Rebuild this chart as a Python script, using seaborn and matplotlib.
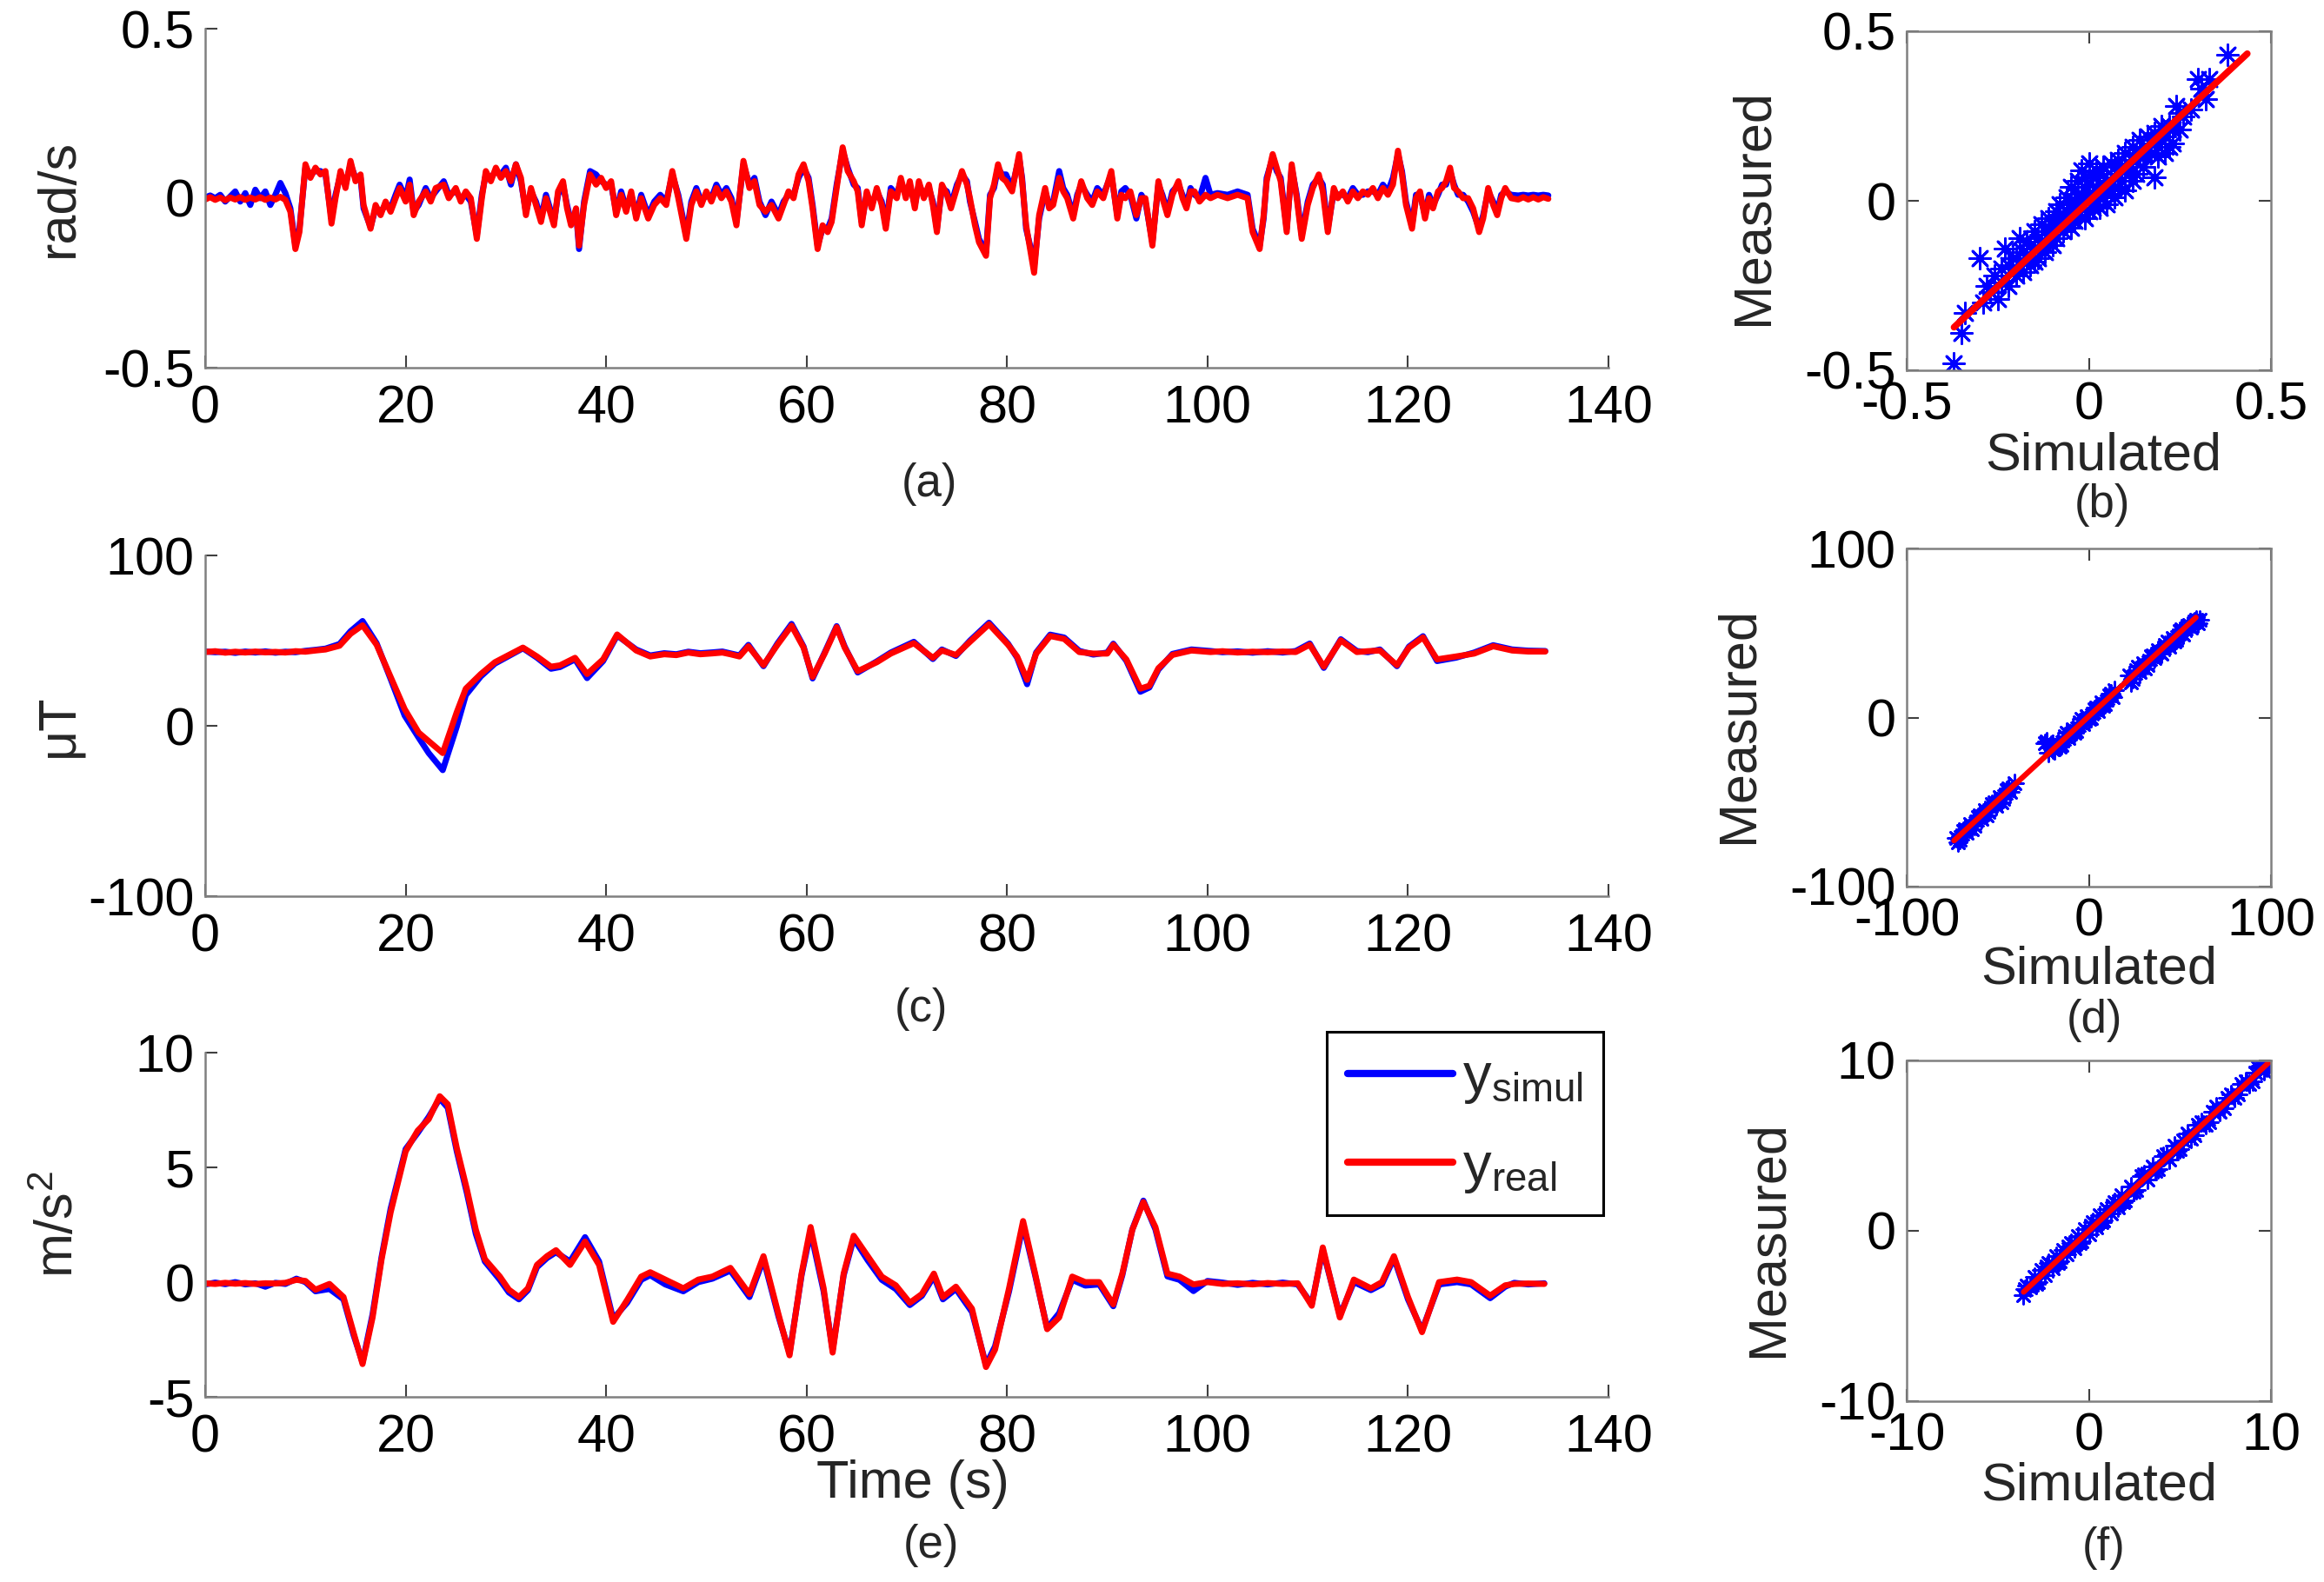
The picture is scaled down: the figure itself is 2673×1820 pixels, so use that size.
import numpy as np
import pandas as pd
import matplotlib
matplotlib.use("Agg")
import matplotlib.pyplot as plt
import seaborn as sns
from matplotlib.lines import Line2D

# ---------------------------------------------------------------- data
time_ticks = [0, 20, 40, 60, 80, 100, 120, 140]

# (a) angular rate, rad/s
t_rate = [0, 0.5, 1, 1.5, 2, 2.5, 3, 3.5, 4, 4.5,
          5, 5.5, 6, 6.5, 7, 7.5, 8, 8.5, 9.0, 9.4,
          10, 10.5, 11, 11.5, 12, 12.6, 13, 13.5, 14, 14.5,
          15, 15.5, 15.8, 16.5, 17, 17.5, 18, 18.5, 19, 19.4,
          20, 20.4, 20.8, 21.3, 22, 22.5, 23, 23.8, 24.3, 25,
          25.5, 26, 26.5, 27.1, 27.6, 28, 28.5, 29, 29.5, 30,
          30.5, 31, 31.5, 32, 32.5, 33, 33.5, 34, 34.8, 35.2,
          35.7, 36.1, 36.5, 37, 37.3, 37.8, 38.4, 39, 39.5, 40,
          40.5, 41, 41.5, 42, 42.5, 43, 43.5, 44.2, 44.8, 45.4,
          46, 46.6, 47.2, 48, 48.5, 49, 49.5, 50, 50.5, 51,
          51.5, 52, 52.5, 53, 53.7, 54.3, 54.8, 55.3, 55.9, 56.5,
          57.2, 57.7, 58.2, 58.7, 59.2, 59.7, 60.2, 60.6, 61.1, 61.6,
          62.1, 62.5, 63, 63.6, 64.1, 64.7, 65.1, 65.5, 66, 66.5,
          67, 67.5, 67.9, 68.4, 69, 69.4, 69.9, 70.3, 70.8, 71.2,
          71.7, 72.2, 72.6, 73, 73.5, 74, 74.4, 75, 75.5, 76,
          76.3, 76.8, 77.2, 77.9, 78.3, 78.7, 79.1, 79.5, 79.9, 80.5,
          81.2, 81.5, 81.9, 82.3, 82.7, 83.2, 83.8, 84.2, 84.6, 85.2,
          85.6, 86, 86.6, 87, 87.4, 88, 88.5, 89, 89.6, 90.4,
          91, 91.4, 91.8, 92.3, 92.9, 93.4, 93.8, 94.5, 95.1, 95.5,
          96, 96.5, 97.1, 97.5, 97.9, 98.3, 98.7, 99.2, 99.8, 100.3,
          101, 102, 103, 104, 104.5, 105.2, 105.6, 105.9, 106.5, 106.9,
          107.3, 107.9, 108.4, 108.9, 109.4, 110, 110.5, 111.1, 111.5, 112,
          112.6, 113, 113.5, 114, 114.5, 115, 115.5, 116, 116.5, 117,
          117.5, 118, 118.5, 119, 119.4, 119.8, 120.4, 120.8, 121.2, 121.7,
          122.1, 122.5, 123, 123.4, 123.8, 124.2, 124.6, 125, 125.5, 126,
          126.5, 127.1, 127.5, 128, 128.5, 128.9, 129.3, 129.7, 130.3, 131,
          131.5, 132, 132.5, 133, 133.5, 134]
real_rate = [-0.004, 0.003, -0.005, 0.002, -0.006, 0.002, -0.004, 0.003, -0.005, 0.002,
             -0.004, 0.003, -0.005, 0.002, -0.004, 0.004, -0.005, -0.04, -0.15, -0.1,
             0.1, 0.06, 0.09, 0.07, 0.08, -0.075, 0.0, 0.08, 0.03, 0.11,
             0.05, 0.07, -0.02, -0.09, -0.02, -0.05, -0.01, -0.04, 0.0, 0.03,
             -0.01, 0.04, -0.05, -0.01, 0.02, -0.01, 0.03, 0.04, 0.0, 0.03,
             -0.01, 0.02, 0.0, -0.12, 0.0, 0.08, 0.05, 0.09, 0.06, 0.08,
             0.05, 0.1, 0.06, -0.05, 0.03, -0.02, -0.07, 0.0, -0.08, 0.02,
             0.05, -0.03, -0.08, -0.03, -0.14, -0.02, 0.07, 0.04, 0.06, 0.03,
             0.05, -0.05, 0.01, -0.04, 0.02, -0.06, 0.0, -0.06, -0.02, 0.0,
             -0.02, 0.08, 0.0, -0.12, -0.02, 0.02, -0.02, 0.02, -0.01, 0.03,
             0.0, 0.02, -0.01, -0.08, 0.11, 0.03, 0.05, -0.02, -0.04, -0.02,
             -0.06, -0.02, 0.02, 0.0, 0.07, 0.1, 0.05, -0.03, -0.15, -0.08,
             -0.1, -0.07, 0.03, 0.15, 0.08, 0.05, 0.02, -0.08, 0.02, -0.03,
             0.03, -0.02, -0.09, 0.02, 0.0, 0.06, 0.0, 0.05, -0.03, 0.05,
             0.0, 0.04, -0.02, -0.1, 0.04, 0.01, -0.03, 0.03, 0.08, 0.04,
             0.0, -0.08, -0.13, -0.17, 0.0, 0.04, 0.1, 0.06, 0.05, 0.02,
             0.13, 0.05, -0.08, -0.15, -0.22, -0.05, 0.03, -0.03, -0.02, 0.06,
             0.02, 0.0, -0.06, 0.0, 0.05, 0.0, -0.02, 0.02, 0.0, 0.08,
             -0.06, 0.01, 0.0, 0.02, -0.05, 0.0, 0.0, -0.14, 0.05, 0.0,
             -0.05, 0.01, 0.05, 0.0, -0.03, 0.02, 0.02, -0.01, 0.01, 0.0,
             0.01, 0.0, 0.01, 0.0, -0.1, -0.15, -0.05, 0.05, 0.13, 0.09,
             0.05, -0.1, 0.1, 0.0, -0.12, -0.02, 0.03, 0.07, 0.02, -0.1,
             0.03, 0.0, 0.02, -0.01, 0.02, 0.0, 0.02, 0.01, 0.03, 0.0,
             0.03, 0.01, 0.04, 0.14, 0.07, -0.02, -0.09, 0.0, 0.02, -0.06,
             0.0, -0.03, 0.02, 0.03, 0.05, 0.09, 0.03, 0.02, 0.0, 0.0,
             -0.03, -0.1, -0.06, 0.03, -0.02, -0.05, 0.0, 0.03, 0.0, -0.004,
             0.003, -0.004, 0.003, -0.004, 0.003, -0.002]
simul_rate = [0.002, 0.008, 0.0, 0.01, -0.01, 0.005, 0.02, -0.01, 0.015, -0.02,
              0.025, 0.0, 0.02, -0.02, 0.01, 0.045, 0.015, -0.03, -0.14, -0.09,
              0.09, 0.07, 0.08, 0.08, 0.07, -0.06, 0.01, 0.07, 0.04, 0.1,
              0.06, 0.06, -0.03, -0.085, -0.03, -0.04, -0.02, -0.03, 0.01, 0.04,
              0.0, 0.055, -0.04, -0.02, 0.03, 0.0, 0.02, 0.05, 0.01, 0.02,
              0.0, 0.01, -0.01, -0.11, 0.01, 0.07, 0.06, 0.08, 0.07, 0.09,
              0.04, 0.1, 0.05, -0.04, 0.02, -0.01, -0.06, 0.01, -0.07, 0.01,
              0.04, -0.02, -0.07, -0.04, -0.15, -0.01, 0.08, 0.07, 0.05, 0.04,
              0.04, -0.04, 0.02, -0.03, 0.01, -0.05, 0.01, -0.05, -0.01, 0.01,
              -0.01, 0.07, 0.01, -0.11, -0.01, 0.03, -0.01, 0.01, 0.0, 0.04,
              0.01, 0.03, 0.0, -0.07, 0.1, 0.04, 0.06, -0.01, -0.05, -0.01,
              -0.05, -0.01, 0.01, 0.01, 0.06, 0.09, 0.06, -0.02, -0.14, -0.09,
              -0.09, -0.06, 0.04, 0.14, 0.09, 0.04, 0.03, -0.07, 0.01, -0.02,
              0.02, -0.01, -0.08, 0.03, 0.01, 0.05, 0.01, 0.04, -0.02, 0.04,
              0.01, 0.03, -0.01, -0.09, 0.03, 0.02, -0.02, 0.04, 0.07, 0.05,
              -0.01, -0.07, -0.12, -0.16, 0.01, 0.03, 0.09, 0.07, 0.07, 0.03,
              0.12, 0.06, -0.09, -0.14, -0.2, -0.06, 0.02, -0.02, -0.01, 0.08,
              0.03, 0.01, -0.05, 0.01, 0.04, 0.01, -0.01, 0.03, 0.01, 0.07,
              -0.05, 0.02, 0.03, 0.01, -0.06, 0.01, -0.01, -0.13, 0.04, 0.01,
              -0.04, 0.02, 0.04, 0.01, -0.02, 0.03, 0.01, 0.0, 0.06, 0.01,
              0.015, 0.01, 0.02, 0.01, -0.09, -0.14, -0.06, 0.06, 0.12, 0.08,
              0.06, -0.09, 0.09, 0.01, -0.11, -0.01, 0.04, 0.06, 0.04, -0.09,
              0.02, 0.01, 0.01, 0.0, 0.03, 0.01, 0.01, 0.02, 0.02, 0.01,
              0.04, 0.02, 0.06, 0.13, 0.08, -0.01, -0.08, 0.01, 0.01, -0.05,
              0.01, -0.02, 0.01, 0.04, 0.04, 0.08, 0.04, 0.01, 0.01, -0.01,
              -0.04, -0.09, -0.05, 0.02, -0.01, -0.04, 0.01, 0.02, 0.01, 0.008,
              0.01, 0.008, 0.01, 0.008, 0.01, 0.008]

# (c) magnetic field, uT
t_mag = [0, 1, 2, 3, 4, 5, 6, 7, 8, 9,
         10, 11, 12, 13.4, 14.5, 15.7, 17.1, 18.5, 19.9, 21.3,
         22.3, 23.7, 25.1, 26, 27.5, 28.9, 30.3, 31.7, 33.1, 34.5,
         35.4, 36.9, 38.1, 39.7, 41.1, 43, 44.4, 45.8, 47, 48.2,
         49.4, 50.6, 51.6, 52.4, 53.3, 54.2, 55.7, 57.1, 58.5, 59.7,
         60.6, 61.8, 63, 63.8, 65.1, 67, 68.4, 70.7, 72.6, 73.5,
         74.9, 76.3, 78.2, 80.1, 81, 82, 82.9, 84.3, 85.7, 87.2,
         88.6, 90, 90.6, 91.9, 93.3, 94.2, 95.1, 96.5, 98.4, 100.3,
         101.5, 103, 104.5, 106, 107.5, 108.8, 110.2, 111.6, 113.3, 114.9,
         116, 117.2, 118.9, 120.1, 121.5, 122.9, 124.8, 126.6, 128.5, 130.4,
         132, 133.7]
real_mag = [43.3, 43.8, 42.9, 43.5, 43.0, 43.6, 43.1, 43.4, 43.0, 43.8,
            43.5, 44.2, 44.8, 47, 54, 59, 47.6, 28.7, 9.8, -4,
            -9, -16, 8, 21.8, 30.4, 37.3, 41.6, 45.9, 40.7, 34.7,
            35.5, 39.9, 30.4, 39, 53.6, 44.2, 40.7, 42, 41.5, 43,
            42, 42.5, 43, 42, 40.7, 46.7, 35.6, 47.6, 58.8, 45.9,
            28.7, 42.4, 57.9, 45.9, 32.1, 37.3, 42.4, 48.5, 39.9, 44.2,
            41.6, 49.3, 59.6, 47.6, 40.7, 27, 42.4, 52.7, 51, 43.3,
            42.4, 42.4, 47.6, 39, 21.8, 23.5, 33.8, 41.6, 44.2, 43.3,
            43.8, 43, 43.5, 43.2, 43.6, 43.3, 47.6, 34.7, 50.2, 43.3,
            43.8, 44.2, 35.6, 45.9, 51.9, 39, 40.7, 42.4, 46.7, 44.2,
            43.6, 43.6]
simul_mag = [43.6, 43.2, 43.5, 42.8, 43.6, 43.0, 43.7, 42.9, 43.5, 43.2,
             44.0, 44.6, 45.3, 48, 55.5, 61.5, 48.5, 27.5, 6, -7,
             -16, -26, -0.5, 18, 29, 36.5, 41, 45.5, 40, 33.5,
             34.5, 39, 28, 38, 53, 44.8, 41.3, 42.6, 42, 43.5,
             42.6, 43.1, 43.6, 42.5, 41.3, 47.5, 35, 48.4, 59.8, 46.5,
             27.8, 43, 58.5, 46.5, 31.3, 37.8, 43, 49.3, 39.2, 44.8,
             41, 50, 60.5, 48.2, 40, 24.4, 43, 53.5, 51.8, 44,
             41.8, 43, 48.2, 38.2, 20, 22.5, 33, 42.2, 44.8, 43.9,
             43.2, 43.7, 42.9, 43.8, 43.0, 43.9, 48.3, 34, 50.8, 43.9,
             43.2, 44.8, 35, 46.5, 52.6, 38, 40, 43, 47.3, 44.8,
             44.1, 43.9]

# (e) acceleration, m/s^2
t_acc = [0, 1, 2, 3, 4, 5, 6, 7, 8, 9.1,
         10, 11, 12.4, 13.8, 14.8, 15.7, 16.7, 17.6, 18.5, 20,
         21.2, 22.3, 23.4, 24.2, 25.1, 26.1, 27, 27.9, 29.4, 30.3,
         31.3, 32.2, 33.1, 34.1, 35, 36.4, 37.9, 39.3, 40.7, 42.1,
         43.5, 44.4, 45.9, 47.7, 49.2, 50.6, 52.4, 54.3, 55.7, 57.2,
         58.3, 59.5, 60.4, 61.7, 62.6, 63.7, 64.7, 66.1, 67.5, 68.9,
         70.3, 71.5, 72.7, 73.6, 74.9, 76.5, 77.9, 78.8, 80.2, 81.6,
         82.8, 84, 85.2, 86.5, 87.8, 89.2, 90.6, 91.5, 92.5, 93.6,
         94.8, 96, 97.2, 98.6, 100, 101.5, 103, 104.5, 106, 107.5,
         109, 110.4, 111.5, 113.2, 114.6, 116.3, 117.4, 118.6, 120, 121.4,
         123.1, 124.9, 126.3, 128.2, 129.7, 130.6, 132, 133.6]
real_acc = [-0.05, -0.08, -0.03, -0.07, -0.04, -0.08, -0.05, -0.06, -0.03, 0.1,
            0.05, -0.33, -0.08, -0.65, -2.2, -3.57, -1.54, 1.0, 3.04, 5.7,
            6.6, 7.1, 8.1, 7.75, 5.84, 4.06, 2.28, 1.0, 0.24, -0.33,
            -0.65, -0.27, 0.75, 1.13, 1.39, 0.75, 1.77, 0.75, -1.73, -0.78,
            0.24, 0.43, 0.11, -0.27, 0.11, 0.24, 0.62, -0.52, 1.13, -1.41,
            -3.19, 0.37, 2.4, -0.27, -3.07, 0.37, 2.02, 1.13, 0.24, -0.14,
            -0.9, -0.52, 0.37, -0.65, -0.2, -1.16, -3.7, -2.94, -0.27, 2.66,
            0.37, -2.05, -1.54, 0.24, 0.0, 0.0, -0.97, 0.37, 2.28, 3.49,
            2.4, 0.37, 0.24, -0.1, 0.0, -0.08, -0.05, -0.1, -0.04, -0.08,
            -0.05, -1.03, 1.51, -1.54, 0.11, -0.27, 0.0, 1.13, -0.65, -2.18,
            0.0, 0.11, 0.0, -0.59, -0.14, -0.08, -0.06, -0.08]
simul_acc = [-0.1, -0.02, -0.09, 0.0, -0.1, -0.05, -0.2, -0.03, -0.08, 0.15,
             0.0, -0.4, -0.3, -0.75, -2.3, -3.5, -1.4, 1.1, 3.2, 5.8,
             6.5, 7.2, 8.0, 7.6, 5.7, 3.9, 2.1, 0.9, 0.1, -0.45,
             -0.75, -0.35, 0.65, 1.05, 1.3, 0.9, 1.96, 0.9, -1.6, -0.9,
             0.1, 0.3, -0.1, -0.4, 0.0, 0.15, 0.5, -0.65, 1.0, -1.5,
             -3.1, 0.3, 2.2, -0.4, -2.95, 0.3, 1.9, 0.95, 0.1, -0.3,
             -1.0, -0.6, 0.25, -0.75, -0.3, -1.3, -3.6, -2.8, -0.4, 2.5,
             0.3, -2.0, -1.35, 0.1, -0.15, -0.1, -1.05, 0.3, 2.3, 3.55,
             2.3, 0.25, 0.1, -0.39, 0.05, -0.02, -0.12, -0.03, -0.1, -0.02,
             -0.1, -0.95, 1.4, -1.45, 0.0, -0.35, -0.1, 1.05, -0.75, -2.1,
             -0.1, 0.0, -0.1, -0.7, -0.2, -0.03, -0.1, -0.05]

# (b) measured vs simulated, rad/s
sim_b = [-0.37, -0.35, -0.34, -0.30, -0.29, -0.28, -0.27, -0.26, -0.25, -0.24,
         -0.23, -0.22, -0.21, -0.20, -0.19, -0.19, -0.18, -0.17, -0.17, -0.16,
         -0.15, -0.15, -0.14, -0.13, -0.13, -0.12, -0.11, -0.11, -0.10, -0.10,
         -0.09, -0.09, -0.08, -0.08, -0.07, -0.07, -0.06, -0.06, -0.05, -0.05,
         -0.04, -0.04, -0.03, -0.03, -0.02, -0.02, -0.01, -0.01, 0.00, 0.00,
         0.00, 0.01, 0.01, 0.02, 0.02, 0.03, 0.03, 0.04, 0.04, 0.05,
         0.05, 0.06, 0.06, 0.07, 0.07, 0.08, 0.08, 0.09, 0.10, 0.10,
         0.11, 0.12, 0.12, 0.13, 0.14, 0.15, 0.16, 0.17, 0.18, 0.18,
         0.19, 0.20, 0.21, 0.22, 0.23, 0.24, 0.25, 0.26, 0.30, 0.31,
         0.32, 0.33, 0.38,
         -0.20, -0.18, -0.16, -0.14, -0.12, -0.10, -0.08, -0.06, -0.04, -0.02,
         0.00, 0.02, 0.04, 0.06, 0.08, 0.10, 0.12, 0.14, 0.16, 0.18,
         0.20, -0.15, -0.12, -0.09, -0.05, -0.03, -0.01, 0.01, 0.03, 0.05,
         0.07, 0.09, 0.11, 0.13, 0.15, 0.17, 0.19, 0.21, -0.22, -0.24,
         0.22, 0.25, 0.28, 0.23]
meas_b = [-0.48, -0.39, -0.33, -0.17, -0.30, -0.25, -0.27, -0.22, -0.29, -0.20,
          -0.14, -0.25, -0.17, -0.22, -0.11, -0.19, -0.21, -0.12, -0.17, -0.19,
          -0.09, -0.14, -0.17, -0.07, -0.12, -0.15, -0.05, -0.10, -0.13, -0.07,
          -0.03, -0.11, -0.06, -0.01, -0.09, -0.04, 0.01, -0.07, -0.02, 0.04,
          -0.06, 0.00, 0.06, -0.04, 0.02, 0.09, -0.05, 0.04, 0.11, -0.03,
          0.02, 0.07, -0.02, 0.03, 0.09, -0.02, 0.05, 0.10, 0.01, 0.06,
          -0.01, 0.03, 0.11, 0.07, 0.01, 0.12, 0.04, 0.09, 0.03, 0.14,
          0.08, 0.16, 0.06, 0.12, 0.18, 0.10, 0.19, 0.14, 0.07, 0.20,
          0.16, 0.22, 0.14, 0.16, 0.21, 0.28, 0.21, 0.25, 0.36, 0.33,
          0.30, 0.36, 0.43,
          -0.17, -0.15, -0.13, -0.11, -0.09, -0.09, -0.04, -0.03, -0.02, -0.01,
          0.00, 0.00, 0.05, 0.06, 0.08, 0.09, 0.12, 0.13, 0.15, 0.17,
          0.18, -0.18, -0.13, -0.08, -0.08, 0.01, 0.07, 0.01, 0.08, 0.02,
          0.10, 0.06, 0.11, 0.08, 0.14, 0.18, 0.13, 0.19, -0.19, -0.24,
          0.22, 0.26, 0.27, 0.17]
fit_b_x = [-0.37, 0.435]
fit_b_y = [-0.373, 0.434]

# (d) measured vs simulated, uT
sim_d = [-73, -71, -69, -67, -65, -63, -61, -59, -57, -55, -53, -51, -49, -47, -45, -43, -41,
         -72, -68, -64, -60, -56, -52, -48, -44,
         -23, -22, -21, -19, -17, -15, -13, -11, -9, -7, -5, -3, -1, 1, 3, 5, 7, 9, 11, 13, 14,
         -24, -20, -16, -12, -8, -4, 0, 4, 8, 12,
         22, 24, 26, 28, 30, 32, 34, 36, 38, 40, 42, 44, 46, 48, 50, 52, 54, 56, 58, 60, 61,
         23, 27, 31, 35, 39, 43, 47, 51, 55, 59]
meas_d = [-71, -72, -67, -68, -63, -64, -59, -60, -55, -56, -51, -52, -47, -48, -43, -44, -39,
          -74, -66, -66, -58, -58, -50, -50, -42,
          -14, -21, -16, -18, -15, -16, -11, -12, -7, -8, -3, -4, 1, 0, 5, 4, 9, 8, 13, 12, 16,
          -15, -19, -17, -9, -9, -1, -1, 6, 7, 14,
          25, 23, 28, 27, 32, 31, 36, 35, 40, 38, 43, 42, 47, 46, 51, 49, 54, 53, 57, 56, 58,
          21, 30, 29, 37, 39, 45, 45, 52, 55, 58]
fit_d_x = [-74, 58.8]
fit_d_y = [-72.8, 59.2]

# (f) measured vs simulated, m/s^2
sim_f = [-3.6, -3.4, -3.2, -3.0, -2.8, -2.6, -2.4, -2.2, -2.0, -1.8, -1.6, -1.4, -1.2, -1.0,
         -0.8, -0.6, -0.4, -0.2, 0.0, 0.2, 0.4, 0.6, 0.8, 1.0, 1.2, 1.4, 1.6, 1.8, 2.0,
         2.3, 2.6, 2.9, 3.2, 3.5, 3.8, 4.1, 4.4, 4.7, 5.0,
         5.4, 5.8, 6.2, 6.6, 7.0, 7.4, 7.8, 8.2, 8.6, 9.0, 9.3, 9.6, 9.9,
         -3.5, -2.9, -2.3, -1.7, -1.1, -0.5, 0.1, 0.7, 1.3, 1.9,
         2.45, 3.05, 3.65, 4.25, 4.85, 5.2, 5.6, 6.0, 6.4, 6.8,
         7.2, 7.6, 8.0, 8.4, 8.8, 9.15, 9.45, 9.75]
meas_f = [-3.8, -3.2, -3.3, -2.7, -3.0, -2.3, -2.6, -1.9, -2.2, -1.5, -1.8, -1.1, -1.4, -0.7,
          -1.0, -0.3, -0.6, 0.1, -0.2, 0.5, 0.2, 0.9, 0.6, 1.3, 1.0, 1.7, 1.4, 2.1, 1.8,
          2.6, 2.4, 3.2, 3.0, 3.8, 3.6, 4.4, 4.2, 5.0, 4.8,
          5.7, 5.6, 6.4, 6.4, 7.3, 7.2, 8.0, 8.0, 8.8, 8.8, 9.6, 9.4, 9.8,
          -3.4, -3.1, -2.1, -1.9, -0.9, -0.7, 0.3, 0.5, 1.5, 1.7,
          2.3, 3.3, 3.5, 4.5, 4.7, 5.3, 5.4, 6.2, 6.2, 7.0,
          7.0, 7.8, 7.8, 8.6, 8.6, 9.3, 9.7, 9.6]
fit_f_x = [-3.58, 9.88]
fit_f_y = [-3.59, 9.88]

# ---------------------------------------------------------------- style
sns.set_theme(style="white")
plt.rcParams["font.family"] = ["Liberation Sans", "DejaVu Sans"]
plt.rcParams["axes.unicode_minus"] = False
plt.rcParams["mathtext.fontset"] = "custom"
plt.rcParams["mathtext.rm"] = "Liberation Sans"
plt.rcParams["mathtext.it"] = "Liberation Sans:italic"
plt.rcParams["mathtext.bf"] = "Liberation Sans:bold"

W, H = 2673, 1820
fig = plt.figure(figsize=(W / 100, H / 100), dpi=100)
fig.patch.set_facecolor("white")

BLUE = "#0000FF"
RED = "#FF0000"
SPINE = "#808080"
FS = 44
FS_TAG = 38


def rect(L, T, R, B):
    return [L / W, 1 - B / H, (R - L) / W, (B - T) / H]


def style(ax, boxed, xpad):
    ax.spines["top"].set_visible(boxed)
    ax.spines["right"].set_visible(boxed)
    for sp in ax.spines.values():
        sp.set_color(SPINE)
        sp.set_linewidth(1.8)
    ax.tick_params(direction="in", length=10, width=1.5, color="#404040",
                   labelsize=FS, labelcolor="black", pad=9,
                   top=boxed, right=boxed, bottom=True, left=True,
                   labeltop=False, labelright=False)
    ax.tick_params(axis="x", pad=xpad)
    ax.grid(False)
    ax.set_facecolor("white")


def series_panel(box, t, sim, real, ylim, yticks, ylabels, ylabel, tag, tag_xy):
    ax = fig.add_axes(rect(*box))
    df = pd.DataFrame({"t": t, "sim": sim, "real": real})
    sns.lineplot(data=df, x="t", y="sim", ax=ax, color=BLUE, linewidth=5,
                 sort=False, estimator=None)
    sns.lineplot(data=df, x="t", y="real", ax=ax, color=RED, linewidth=5,
                 sort=False, estimator=None)
    ax.set_xlim(0, 140)
    ax.set_ylim(*ylim)
    ax.set_xticks(time_ticks)
    ax.set_xticklabels([str(v) for v in time_ticks])
    ax.set_yticks(yticks)
    ax.set_yticklabels(ylabels)
    style(ax, False, 14)
    ax.set_xlabel("")
    ax.set_ylabel(ylabel, fontsize=FS)
    ax.yaxis.label.set_va("center")
    ax.yaxis.set_label_coords(-0.104, 0.5)
    ax.text(tag_xy[0], tag_xy[1], tag, transform=ax.transAxes, ha="center",
            va="center", fontsize=FS_TAG)
    return ax


def scatter_panel(box, sim, meas, fx, fy, lim, ticks, labels, ylab_xy, xlab_xy, tag, tag_xy,
                  msize, fit_lw):
    ax = fig.add_axes(rect(*box))
    sns.scatterplot(x=sim, y=meas, ax=ax, marker=(8, 2, 0), s=msize, color=BLUE,
                    linewidth=2.0, legend=False)
    sns.lineplot(x=fx, y=fy, ax=ax, color=RED, linewidth=fit_lw, sort=False, estimator=None)
    ax.set_xlim(*lim)
    ax.set_ylim(*lim)
    ax.set_xticks(ticks)
    ax.set_xticklabels(labels)
    ax.set_yticks(ticks)
    ax.set_yticklabels(labels)
    style(ax, True, 9)
    ax.set_xlabel("Simulated", fontsize=FS)
    ax.xaxis.label.set_va("center")
    ax.xaxis.set_label_coords(*xlab_xy)
    ax.set_ylabel("Measured", fontsize=FS)
    ax.yaxis.label.set_va("center")
    ax.yaxis.set_label_coords(*ylab_xy)
    ax.text(tag_xy[0], tag_xy[1], tag, transform=ax.transAxes, ha="center",
            va="center", fontsize=FS_TAG)
    return ax


ax_a = series_panel((236, 33, 1850, 423), t_rate, simul_rate, real_rate,
                    (-0.5, 0.5), [-0.5, 0, 0.5], ["-0.5", "0", "0.5"],
                    "rad/s", "(a)", (0.516, -0.344))
ax_c = series_panel((236, 639, 1850, 1031), t_mag, simul_mag, real_mag,
                    (-100, 100), [-100, 0, 100], ["-100", "0", "100"],
                    "\u03bcT", "(c)", (0.51, -0.332))
ax_e = series_panel((236, 1211, 1850, 1607), t_acc, simul_acc, real_acc,
                    (-5, 10), [-5, 0, 5, 10], ["-5", "0", "5", "10"],
                    r"m/s$^{\mathregular{2}}$", "(e)", (0.517, -0.432))
ax_e.set_xlabel("Time (s)", fontsize=FS)
ax_e.xaxis.label.set_va("center")
ax_e.xaxis.set_label_coords(0.504, -0.255)

handles = [Line2D([], [], color=BLUE, lw=6), Line2D([], [], color=RED, lw=6)]
leg = ax_e.legend(handles, [r"$\mathregular{y_{simul}}$", r"$\mathregular{y_{real}}$"],
                  loc="upper right", bbox_to_anchor=(1844 / W, 1 - 1187 / H),
                  bbox_transform=fig.transFigure, fontsize=47, frameon=True,
                  fancybox=False, edgecolor="black", framealpha=1, borderaxespad=0,
                  borderpad=0.36, labelspacing=0.62, handlelength=1.85, handletextpad=0.17)
leg.get_frame().set_linewidth(2.2)

scatter_panel((2193, 36, 2612, 426), sim_b, meas_b, fit_b_x, fit_b_y, (-0.5, 0.5),
              [-0.5, 0, 0.5], ["-0.5", "0", "0.5"], (-0.42, 0.482), (0.539, -0.255),
              "(b)", (0.537, -0.397), 300, 5.5)
scatter_panel((2193, 631, 2612, 1020), sim_d, meas_d, fit_d_x, fit_d_y, (-100, 100),
              [-100, 0, 100], ["-100", "0", "100"], (-0.46, 0.479), (0.527, -0.248),
              "(d)", (0.515, -0.397), 200, 4.5)
scatter_panel((2193, 1220, 2612, 1612), sim_f, meas_f, fit_f_x, fit_f_y, (-10, 10),
              [-10, 0, 10], ["-10", "0", "10"], (-0.38, 0.477), (0.527, -0.25),
              "(f)", (0.542, -0.432), 200, 4.5)

fig.savefig("out.png", dpi=100, facecolor="white")
